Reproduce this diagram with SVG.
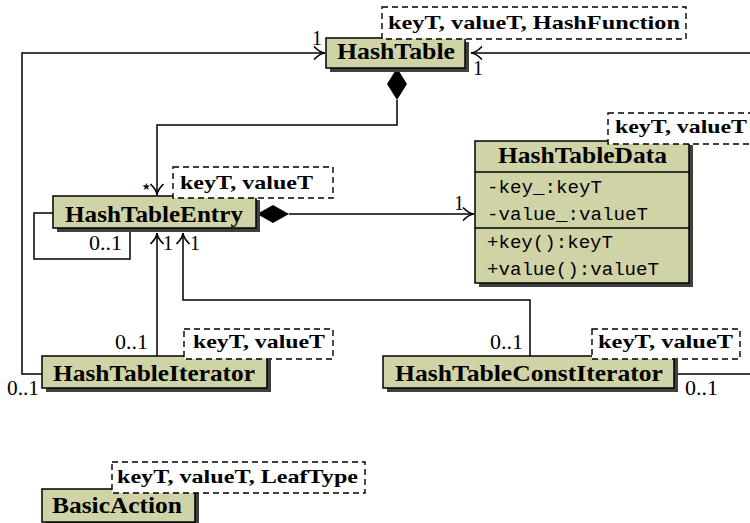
<svg xmlns="http://www.w3.org/2000/svg" width="750" height="523" viewBox="0 0 750 523">
<style>
.box{fill:#d0d3a5;stroke:#000;stroke-width:1.5}
.sh{fill:#404040}
.tpl{fill:#fff;stroke:#000;stroke-width:1.4;stroke-dasharray:6,4}
.cn{font-family:"Liberation Serif",serif;font-weight:bold;font-size:23px}
.tt{font-family:"Liberation Serif",serif;font-weight:bold;font-size:19px}
.mono{font-family:"Liberation Mono",monospace;font-size:19px}
.ml{font-family:"Liberation Serif",serif;font-size:20px}
.ln{fill:none;stroke:#000;stroke-width:1.5}
</style>
<defs>
<marker id="arr" markerUnits="userSpaceOnUse" markerWidth="16" markerHeight="16" viewBox="-13 -8 15 16" refX="0" refY="0" orient="auto">
<path d="M-11,-6.5 C-7,-2.5 -2.5,0 0,0 C-2.5,0 -7,2.5 -11,6.5" fill="none" stroke="#000" stroke-width="1.7"/>
</marker>
</defs>
<g id="connectors">
<path class="ln" d="M42,374 H22 V53 H325" marker-end="url(#arr)"/>
<path class="ln" d="M674,374 H750"/>
<path class="ln" d="M750,53 H471" marker-end="url(#arr)"/>
<polygon points="397,68 407,84 397,100 387,84" fill="#000"/>
<path class="ln" d="M397,100 V125 H157 V195" marker-end="url(#arr)"/>
<path class="ln" d="M53,213 H34 V259 H130 V228"/>
<polygon points="257,214 273,205 289,214 273,223" fill="#000"/>
<path class="ln" d="M289,214 H474" marker-end="url(#arr)"/>
<path class="ln" d="M157,356 V233" marker-end="url(#arr)"/>
<path class="ln" d="M530,356 V300 H183 V233" marker-end="url(#arr)"/>
<text class="ml" x="312" y="45">1</text>
<text class="ml" x="473" y="75">1</text>
<text class="ml" x="140" y="193" font-size="22">⋆</text>
<text class="ml" x="89" y="250" textLength="33" lengthAdjust="spacingAndGlyphs">0..1</text>
<text class="ml" x="163" y="250">1</text>
<text class="ml" x="190" y="250">1</text>
<text class="ml" x="454" y="210">1</text>
<text class="ml" x="115" y="349" textLength="33" lengthAdjust="spacingAndGlyphs">0..1</text>
<text class="ml" x="7" y="395" textLength="32" lengthAdjust="spacingAndGlyphs">0..1</text>
<text class="ml" x="490" y="349" textLength="33" lengthAdjust="spacingAndGlyphs">0..1</text>
<text class="ml" x="685" y="395" textLength="33" lengthAdjust="spacingAndGlyphs">0..1</text>
</g>
<g id="HashTable">
<rect class="sh" x="330" y="42" width="139" height="30"/>
<rect class="box" x="326" y="38" width="139" height="30"/>
<text class="cn" x="337" y="59" textLength="118" lengthAdjust="spacingAndGlyphs">HashTable</text>
<rect class="tpl" x="382" y="7" width="304" height="32"/>
<text class="tt" x="388" y="29" textLength="292" lengthAdjust="spacingAndGlyphs">keyT, valueT, HashFunction</text>
</g>
<g id="HashTableEntry">
<rect class="sh" x="57" y="200" width="203" height="32"/>
<rect class="box" x="53" y="196" width="203" height="32"/>
<text class="cn" x="65" y="222" textLength="178" lengthAdjust="spacingAndGlyphs">HashTableEntry</text>
<rect class="tpl" x="173" y="167" width="160" height="31"/>
<text class="tt" x="180" y="189" textLength="133" lengthAdjust="spacingAndGlyphs">keyT, valueT</text>
</g>
<g id="HashTableData">
<rect class="sh" x="479" y="145" width="214" height="142"/>
<rect class="box" x="475" y="141" width="214" height="142"/>
<line class="ln" x1="475" y1="172" x2="689" y2="172"/>
<line class="ln" x1="475" y1="228" x2="689" y2="228"/>
<text class="cn" x="498" y="163" textLength="169" lengthAdjust="spacingAndGlyphs">HashTableData</text>
<text class="mono" x="487" y="193" textLength="115" lengthAdjust="spacingAndGlyphs">-key_:keyT</text>
<text class="mono" x="487" y="220" textLength="161" lengthAdjust="spacingAndGlyphs">-value_:valueT</text>
<text class="mono" x="487" y="248" textLength="126" lengthAdjust="spacingAndGlyphs">+key():keyT</text>
<text class="mono" x="487" y="275" textLength="172" lengthAdjust="spacingAndGlyphs">+value():valueT</text>
<rect class="tpl" x="608" y="113" width="145" height="31"/>
<text class="tt" x="615" y="133" textLength="132" lengthAdjust="spacingAndGlyphs">keyT, valueT</text>
</g>
<g id="HashTableIterator">
<rect class="sh" x="46" y="360" width="225" height="32"/>
<rect class="box" x="42" y="356" width="225" height="32"/>
<text class="cn" x="53" y="381" textLength="202" lengthAdjust="spacingAndGlyphs">HashTableIterator</text>
<rect class="tpl" x="184" y="329" width="149" height="30"/>
<text class="tt" x="193" y="348" textLength="132" lengthAdjust="spacingAndGlyphs">keyT, valueT</text>
</g>
<g id="HashTableConstIterator">
<rect class="sh" x="387" y="360" width="291" height="32"/>
<rect class="box" x="383" y="356" width="291" height="32"/>
<text class="cn" x="395" y="381" textLength="268" lengthAdjust="spacingAndGlyphs">HashTableConstIterator</text>
<rect class="tpl" x="592" y="329" width="148" height="30"/>
<text class="tt" x="598" y="348" textLength="135" lengthAdjust="spacingAndGlyphs">keyT, valueT</text>
</g>
<g id="BasicAction">
<rect class="sh" x="46" y="493" width="153" height="33"/>
<rect class="box" x="42" y="489" width="153" height="33"/>
<text class="cn" x="52" y="513" textLength="130" lengthAdjust="spacingAndGlyphs">BasicAction</text>
<rect class="tpl" x="112" y="462" width="253" height="31"/>
<text class="tt" x="117" y="483" textLength="241" lengthAdjust="spacingAndGlyphs">keyT, valueT, LeafType</text>
</g>
</svg>
